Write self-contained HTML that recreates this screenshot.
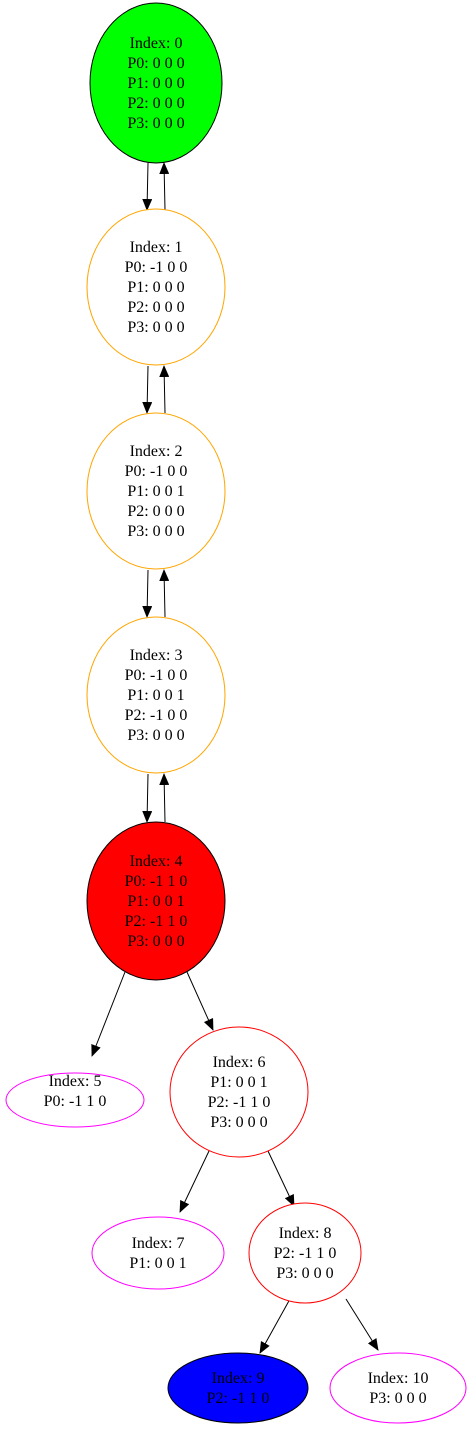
<!DOCTYPE html>
<html><head><meta charset="utf-8"><style>
html,body{margin:0;padding:0;background:#fff;}
svg text{font-family:"Liberation Serif",serif;font-size:16px;text-anchor:middle;fill:#000;}
</style></head><body>
<svg width="472" height="1429" viewBox="0 0 472 1429" xmlns="http://www.w3.org/2000/svg">
<defs><marker id="a" markerWidth="12" markerHeight="10" refX="11" refY="5" orient="auto" markerUnits="userSpaceOnUse"><path d="M0,0 L12,5 L0,10 z" fill="#000"/></marker></defs>
<g stroke="#000" stroke-width="1" fill="none" marker-end="url(#a)">
<line x1="148" y1="163" x2="147" y2="210"/><line x1="165" y1="210" x2="164" y2="163"/>
<line x1="148" y1="366" x2="147" y2="413"/><line x1="165" y1="413" x2="164" y2="366"/>
<line x1="148" y1="570" x2="147" y2="617"/><line x1="165" y1="617" x2="164" y2="570"/>
<line x1="148" y1="774" x2="147" y2="822"/><line x1="165" y1="822" x2="164" y2="774"/>
<line x1="125" y1="972" x2="92" y2="1056"/>
<line x1="187" y1="972" x2="213" y2="1030"/>
<line x1="209" y1="1151" x2="180" y2="1212"/>
<line x1="268" y1="1151" x2="294" y2="1206"/>
<line x1="290" y1="1299" x2="260" y2="1353"/>
<line x1="346" y1="1299" x2="378" y2="1350"/>
</g>
<ellipse cx="156" cy="83" rx="66" ry="80" fill="#00ff00" stroke="#000"/>
<ellipse cx="156" cy="287" rx="69" ry="78" fill="#fff" stroke="#ffa500"/>
<ellipse cx="156" cy="491" rx="69" ry="78" fill="#fff" stroke="#ffa500"/>
<ellipse cx="156" cy="695" rx="69" ry="78" fill="#fff" stroke="#ffa500"/>
<ellipse cx="156" cy="901" rx="69" ry="79" fill="#ff0000" stroke="#000"/>
<ellipse cx="75" cy="1100" rx="69" ry="27" fill="#fff" stroke="#ff00ff"/>
<ellipse cx="239" cy="1092" rx="69" ry="65" fill="#fff" stroke="#ff0000"/>
<ellipse cx="158" cy="1253" rx="66" ry="36" fill="#fff" stroke="#ff00ff"/>
<ellipse cx="305" cy="1253" rx="56" ry="50" fill="#fff" stroke="#ff0000"/>
<ellipse cx="238" cy="1388" rx="70" ry="35" fill="#0000ff" stroke="#000"/>
<ellipse cx="398" cy="1388" rx="68" ry="35" fill="#fff" stroke="#ff00ff"/>
<text x="156" y="48">Index: 0</text><text x="156" y="68">P0: 0 0 0</text><text x="156" y="88">P1: 0 0 0</text><text x="156" y="108">P2: 0 0 0</text><text x="156" y="128">P3: 0 0 0</text>
<text x="156" y="252">Index: 1</text><text x="156" y="272">P0: -1 0 0</text><text x="156" y="292">P1: 0 0 0</text><text x="156" y="312">P2: 0 0 0</text><text x="156" y="332">P3: 0 0 0</text>
<text x="156" y="456">Index: 2</text><text x="156" y="476">P0: -1 0 0</text><text x="156" y="496">P1: 0 0 1</text><text x="156" y="516">P2: 0 0 0</text><text x="156" y="536">P3: 0 0 0</text>
<text x="156" y="660">Index: 3</text><text x="156" y="680">P0: -1 0 0</text><text x="156" y="700">P1: 0 0 1</text><text x="156" y="720">P2: -1 0 0</text><text x="156" y="740">P3: 0 0 0</text>
<text x="156" y="866">Index: 4</text><text x="156" y="886">P0: -1 1 0</text><text x="156" y="906">P1: 0 0 1</text><text x="156" y="926">P2: -1 1 0</text><text x="156" y="946">P3: 0 0 0</text>
<text x="75" y="1086">Index: 5</text><text x="75" y="1106">P0: -1 1 0</text>
<text x="239" y="1067">Index: 6</text><text x="239" y="1087">P1: 0 0 1</text><text x="239" y="1107">P2: -1 1 0</text><text x="239" y="1127">P3: 0 0 0</text>
<text x="158" y="1248">Index: 7</text><text x="158" y="1268">P1: 0 0 1</text>
<text x="305" y="1238">Index: 8</text><text x="305" y="1258">P2: -1 1 0</text><text x="305" y="1278">P3: 0 0 0</text>
<text x="238" y="1383">Index: 9</text><text x="238" y="1403">P2: -1 1 0</text>
<text x="398" y="1383">Index: 10</text><text x="398" y="1403">P3: 0 0 0</text>
</svg>
</body></html>
